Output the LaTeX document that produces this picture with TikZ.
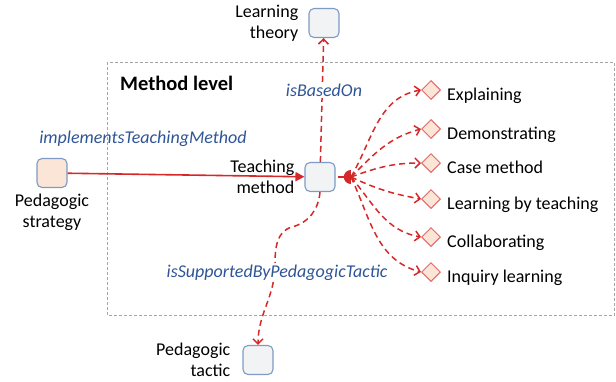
\documentclass[tikz,border=0pt]{standalone}
\usepackage{fontspec}
\setmainfont{Carlito}
\usetikzlibrary{arrows.meta,positioning,shapes.geometric}

\definecolor{linered}{RGB}{214,40,40}
\definecolor{boxblue}{RGB}{125,155,195}
\definecolor{boxgray}{RGB}{241,243,245}
\definecolor{peach}{RGB}{251,229,214}
\definecolor{dmdred}{RGB}{228,105,105}
\definecolor{roleblue}{RGB}{47,85,150}
\definecolor{framegray}{RGB}{165,165,165}

\tikzset{
  cls/.style={draw=boxblue, line width=1.1pt, fill=boxgray, rounded corners=5pt,
    minimum width=30pt, minimum height=29pt, inner sep=0pt},
  ind/.style={diamond, draw=dmdred, line width=1pt, fill=peach,
    minimum width=19pt, minimum height=19pt, inner sep=0pt},
  txt/.style={inner sep=0pt, font=\fontsize{18}{21}\selectfont},
  ilbl/.style={txt, text height=12pt, text depth=4pt},
  role/.style={inner sep=2pt, text=roleblue, font=\fontsize{18}{21}\selectfont\itshape},
  dep/.style={draw=linered, line width=1.5pt, dash pattern=on 6pt off 4pt,
    -{Straight Barb[length=5pt,width=10pt]}},
}

\begin{document}
\begin{tikzpicture}[x=1pt,y=1pt]
  \useasboundingbox (0,0) rectangle (616,-381);

  % method level
  \draw[framegray, line width=0.8pt, dash pattern=on 3pt off 2pt] (107,-62) rectangle (614.5,-315);
  \node[anchor=base west, inner sep=0pt, font=\fontsize{20.5}{24}\selectfont\bfseries] (ML) at (120,-90) {Method level};

  \node[cls] (LT) at (324,-23) {};
  \node[cls] (TM) at (320,-177) {};
  \node[cls, fill=peach] (PS) at (52,-173) {};
  \node[cls] (PT) at (258,-360) {};

  \node[txt, align=right] (LTl) [left=10pt of LT] {Learning\\theory};
  \node[txt, align=right] (TMl) [left=10pt of TM] {Teaching\\method};
  \node[txt, align=center] (PSl) [below=6pt of PS] {Pedagogic\\strategy};
  \node[txt, align=right] (PTl) [left=12pt of PT] {Pedagogic\\tactic};

  \node[ind] (E) at (431,-90) {};
  \node[ind] (D) at (431,-129) {};
  \node[ind] (C) at (431,-163) {};
  \node[ind] (LB) at (431,-199) {};
  \node[ind] (CO) at (431,-237) {};
  \node[ind] (I) at (431,-272) {};
  \node[ilbl, right=6pt of E, yshift=-6pt] (El) {Explaining};
  \node[ilbl, right=6pt of D, yshift=-6pt] (Dl) {Demonstrating};
  \node[ilbl, right=6pt of C, yshift=-6pt] (Cl) {Case method};
  \node[ilbl, right=6pt of LB, yshift=-6pt] (LBl) {Learning by teaching};
  \node[ilbl, right=6pt of CO, yshift=-6pt] (COl) {Collaborating};
  \node[ilbl, right=6pt of I, yshift=-6pt] (Il) {Inquiry learning};

  \node[semicircle, shape border rotate=90, fill=linered, minimum size=7pt, inner sep=0pt] (M) at (348,-177) {};

  \draw[linered, line width=1.6pt, -{Triangle[length=9pt,width=9pt]}] (PS) -- (TM);
  \draw[dep] (TM) -- (LT);
  \draw[dep] (TM.south) to[out=-95,in=15] (292,-227) to[out=-165,in=90] (275,-265)
    to[out=-90,in=90] (PT.north);
  \draw[linered, line width=1.5pt, shorten <=2pt] (TM) -- (M);

  \path (M.east) edge[dep, out=60, in=190] (E.west)
                 edge[dep, out=45, in=195] (D.west)
                 edge[dep, out=20, in=180] (C.west)
                 edge[dep, out=-25, in=170] (LB.west)
                 edge[dep, out=-50, in=170] (CO.west)
                 edge[dep, out=-65, in=165] (I.west);

  \node[role, anchor=base, fill=white] (bo) at (324,-96) {isBasedOn};
  \node[role, anchor=base] (im) at (143,-143) {implementsTeachingMethod};
  \node[role, anchor=base, fill=white] (sp) at (277,-277) {isSupportedByPedagogicTactic};
\end{tikzpicture}
\end{document}
